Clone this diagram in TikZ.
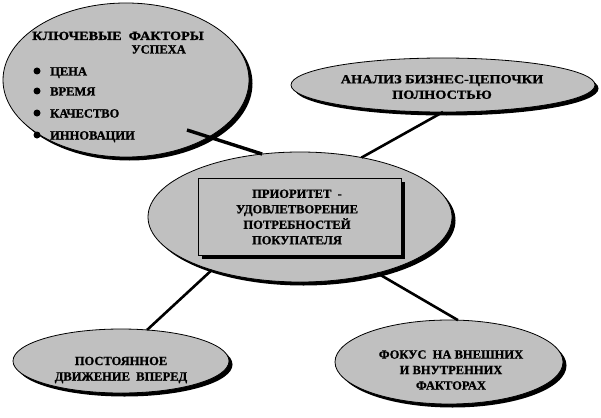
\documentclass[tikz,border=0pt]{standalone}
\usepackage{fontspec}
\setmainfont{Liberation Serif}
\newfontfamily\heavy{Liberation Serif}[BoldFeatures={FakeBold=1.2}]
\newfontfamily\heavywide{Liberation Serif}[BoldFeatures={FakeBold=1.2,FakeStretch=1.14}]
\usetikzlibrary{shapes.geometric,shadows}
\definecolor{bubble}{HTML}{C0C0C0}
\tikzset{
  bubble/.style={ellipse, draw=black, line width=0.8pt, fill=bubble, inner sep=0pt, outer sep=0pt,
    drop shadow={shadow xshift=3.5pt, shadow yshift=-3.5pt, fill=black, opacity=1}},
  framebox/.style={rectangle, draw=black, line width=0.8pt, fill=bubble, inner sep=0pt,
    drop shadow={shadow xshift=4pt, shadow yshift=-4pt, fill=black, opacity=1}},
  lbl/.style={inner sep=0pt, font=\heavy\bfseries\fontsize{12.5}{15.5}\selectfont, align=center},
  widelbl/.style={lbl, font=\heavywide\bfseries\fontsize{12.5}{15.5}\selectfont},
  link/.style={line width=2.6pt, black},
  dot/.style={circle, fill=black, inner sep=0pt, minimum size=7pt}
}
\begin{document}
\begin{tikzpicture}[x=1pt,y=-1pt]
\useasboundingbox (0,0) rectangle (601,417);
% ellipses
\node[bubble, minimum width=246pt, minimum height=154pt] (tl) at (126,80) {};
\node[bubble, minimum width=304pt, minimum height=54pt] (tr) at (443,85) {};
\node[bubble, minimum width=304pt, minimum height=130pt] (c) at (300,217) {};
\node[bubble, minimum width=216pt, minimum height=64pt] (bl) at (121,361) {};
\node[bubble, minimum width=228pt, minimum height=84pt] (br) at (449,362) {};
\node[framebox, minimum width=203pt, minimum height=77pt] (box) at (299.5,216.5) {};
% texts
\node[widelbl, anchor=base west] (t1) at (32,40) {КЛЮЧЕВЫЕ\ \ ФАКТОРЫ};
\node[lbl, anchor=base east] (t2) at (186,53.5) {УСПЕХА};
\node[dot] (d1) at (37,71) {};
\node[dot] (d2) at (37,91) {};
\node[dot] (d3) at (37,113) {};
\node[dot] (d4) at (37,135) {};
\node[lbl, anchor=base west] (i1) at (50,75.5) {ЦЕНА};
\node[lbl, anchor=base west] (i2) at (50,95.5) {ВРЕМЯ};
\node[lbl, anchor=base west] (i3) at (50,117.5) {КАЧЕСТВО};
\node[lbl, anchor=base west] (i4) at (50,139.5) {ИННОВАЦИИ};
\node[widelbl] (trt) at (442,87) {АНАЛИЗ БИЗНЕС-ЦЕПОЧКИ\\ПОЛНОСТЬЮ};
\node[lbl] (ct) at (297,217) {ПРИОРИТЕТ\ \ -\\УДОВЛЕТВОРЕНИЕ\\ПОТРЕБНОСТЕЙ\\ПОКУПАТЕЛЯ};
\node[lbl] (blt) at (121,370) {ПОСТОЯННОЕ\\ДВИЖЕНИЕ\ \ ВПЕРЕД};
\node[lbl] (brt) at (451,370) {ФОКУС\ \ НА ВНЕШНИХ\\И ВНУТРЕННИХ\\ФАКТОРАХ};
% connectors
\coordinate (tlend) at (187,130);
\draw[link, line width=3.4pt] (tlend) -- (c.121);
\draw[link] (tr.south) -- (c.44);
\draw[link] (c.211) -- (bl.50);
\draw[link] (c.-36) -- (br.78);
\end{tikzpicture}
\end{document}
